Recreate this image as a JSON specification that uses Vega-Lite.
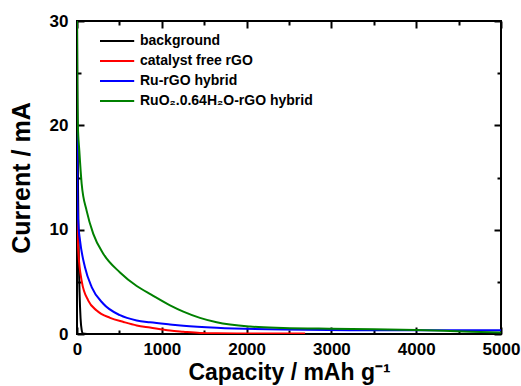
{
  "$schema": "https://vega.github.io/schema/vega-lite/v6.json",
  "width": 424,
  "height": 313,
  "autosize": "none",
  "padding": {"left": 77, "top": 21, "right": 20, "bottom": 52},
  "background": "white",
  "config": {
    "view": {"stroke": "black", "strokeWidth": 2},
    "font": "Liberation Sans"
  },
  "data": {
    "values": [
      {"s": "background", "x": 0, "y": 31},
      {"s": "background", "x": 5, "y": 22},
      {"s": "background", "x": 12, "y": 14},
      {"s": "background", "x": 20, "y": 8},
      {"s": "background", "x": 30, "y": 4},
      {"s": "background", "x": 42, "y": 1.5},
      {"s": "background", "x": 55, "y": 0.4},
      {"s": "background", "x": 70, "y": 0.05},
      {"s": "background", "x": 120, "y": 0},
      {"s": "catalyst free rGO", "x": 0, "y": 13},
      {"s": "catalyst free rGO", "x": 5, "y": 10.5},
      {"s": "catalyst free rGO", "x": 15, "y": 8},
      {"s": "catalyst free rGO", "x": 55, "y": 5.1},
      {"s": "catalyst free rGO", "x": 133, "y": 3.2},
      {"s": "catalyst free rGO", "x": 232, "y": 2.25},
      {"s": "catalyst free rGO", "x": 390, "y": 1.55},
      {"s": "catalyst free rGO", "x": 550, "y": 1.15},
      {"s": "catalyst free rGO", "x": 704, "y": 0.82},
      {"s": "catalyst free rGO", "x": 861, "y": 0.62},
      {"s": "catalyst free rGO", "x": 1097, "y": 0.33},
      {"s": "catalyst free rGO", "x": 1254, "y": 0.22},
      {"s": "catalyst free rGO", "x": 1450, "y": 0.1},
      {"s": "catalyst free rGO", "x": 1647, "y": 0.06},
      {"s": "catalyst free rGO", "x": 2000, "y": 0.05},
      {"s": "catalyst free rGO", "x": 2690, "y": 0.04},
      {"s": "Ru-rGO hybrid", "x": 0, "y": 21},
      {"s": "Ru-rGO hybrid", "x": 2, "y": 17},
      {"s": "Ru-rGO hybrid", "x": 5, "y": 13},
      {"s": "Ru-rGO hybrid", "x": 15, "y": 10.6},
      {"s": "Ru-rGO hybrid", "x": 35, "y": 9},
      {"s": "Ru-rGO hybrid", "x": 94, "y": 6.4},
      {"s": "Ru-rGO hybrid", "x": 173, "y": 4.5},
      {"s": "Ru-rGO hybrid", "x": 310, "y": 2.9},
      {"s": "Ru-rGO hybrid", "x": 507, "y": 1.8},
      {"s": "Ru-rGO hybrid", "x": 704, "y": 1.3},
      {"s": "Ru-rGO hybrid", "x": 861, "y": 1.12},
      {"s": "Ru-rGO hybrid", "x": 1097, "y": 0.92},
      {"s": "Ru-rGO hybrid", "x": 1254, "y": 0.8},
      {"s": "Ru-rGO hybrid", "x": 1647, "y": 0.6},
      {"s": "Ru-rGO hybrid", "x": 2433, "y": 0.42},
      {"s": "Ru-rGO hybrid", "x": 3219, "y": 0.37},
      {"s": "Ru-rGO hybrid", "x": 4000, "y": 0.36},
      {"s": "Ru-rGO hybrid", "x": 5000, "y": 0.36},
      {"s": "RuO₂.0.64H₂O-rGO hybrid", "x": 0, "y": 31},
      {"s": "RuO₂.0.64H₂O-rGO hybrid", "x": 3, "y": 24},
      {"s": "RuO₂.0.64H₂O-rGO hybrid", "x": 10, "y": 20},
      {"s": "RuO₂.0.64H₂O-rGO hybrid", "x": 27, "y": 17.6},
      {"s": "RuO₂.0.64H₂O-rGO hybrid", "x": 55, "y": 14.4},
      {"s": "RuO₂.0.64H₂O-rGO hybrid", "x": 114, "y": 11.8},
      {"s": "RuO₂.0.64H₂O-rGO hybrid", "x": 192, "y": 9.6},
      {"s": "RuO₂.0.64H₂O-rGO hybrid", "x": 310, "y": 7.7},
      {"s": "RuO₂.0.64H₂O-rGO hybrid", "x": 507, "y": 5.9},
      {"s": "RuO₂.0.64H₂O-rGO hybrid", "x": 704, "y": 4.6},
      {"s": "RuO₂.0.64H₂O-rGO hybrid", "x": 880, "y": 3.75},
      {"s": "RuO₂.0.64H₂O-rGO hybrid", "x": 1097, "y": 2.75},
      {"s": "RuO₂.0.64H₂O-rGO hybrid", "x": 1254, "y": 2.15},
      {"s": "RuO₂.0.64H₂O-rGO hybrid", "x": 1450, "y": 1.55},
      {"s": "RuO₂.0.64H₂O-rGO hybrid", "x": 1647, "y": 1.13},
      {"s": "RuO₂.0.64H₂O-rGO hybrid", "x": 2040, "y": 0.72},
      {"s": "RuO₂.0.64H₂O-rGO hybrid", "x": 2433, "y": 0.58},
      {"s": "RuO₂.0.64H₂O-rGO hybrid", "x": 3000, "y": 0.5},
      {"s": "RuO₂.0.64H₂O-rGO hybrid", "x": 3500, "y": 0.45},
      {"s": "RuO₂.0.64H₂O-rGO hybrid", "x": 4000, "y": 0.38},
      {"s": "RuO₂.0.64H₂O-rGO hybrid", "x": 4556, "y": 0.24},
      {"s": "RuO₂.0.64H₂O-rGO hybrid", "x": 5000, "y": 0.14}
    ]
  },
  "layer": [
    {
      "mark": {"type": "line", "strokeWidth": 2, "clip": true, "interpolate": "monotone"},
      "encoding": {
        "x": {
          "field": "x", "type": "quantitative",
          "scale": {"domain": [0, 5000], "nice": false},
          "axis": {
            "orient": "bottom", "values": [0, 1000, 2000, 3000, 4000, 5000], "format": "d",
            "ticks": false, "domain": false, "grid": false, "labelFlush": false,
            "labelFont": "Liberation Sans", "labelFontWeight": "bold", "labelFontSize": 17,
            "labelColor": "black", "labelPadding": 7,
            "title": "Capacity / mAh g⁻¹", "titleFont": "Liberation Sans", "titleFontSize": 23,
            "titleFontWeight": "bold", "titleColor": "black", "titlePadding": 4
          }
        },
        "y": {
          "field": "y", "type": "quantitative",
          "scale": {"domain": [0, 30], "nice": false},
          "axis": {
            "orient": "left", "values": [0, 10, 20, 30], "format": "d",
            "ticks": false, "domain": false, "grid": false, "labelFlush": false,
            "labelFont": "Liberation Sans", "labelFontWeight": "bold", "labelFontSize": 17,
            "labelColor": "black", "labelPadding": 9,
            "title": "Current / mA", "titleFont": "Liberation Sans", "titleFontSize": 25,
            "titleFontWeight": "bold", "titleColor": "black", "titlePadding": 15
          }
        },
        "color": {
          "field": "s", "type": "nominal",
          "scale": {
            "domain": ["background", "catalyst free rGO", "Ru-rGO hybrid", "RuO₂.0.64H₂O-rGO hybrid"],
            "range": ["#000000", "#ff0000", "#0000ff", "#008000"]
          },
          "legend": {
            "orient": "top-left", "title": null, "offset": 13, "padding": 0,
            "symbolType": "M0.5,0H6.2", "symbolSize": 144, "symbolStrokeWidth": 2,
            "labelFont": "Liberation Sans", "labelFontWeight": "bold", "labelFontSize": 14,
            "labelColor": "black", "labelOffset": 36, "rowPadding": 6, "labelLimit": 400
          }
        }
      }
    },
    {
      "mark": {"type": "point", "opacity": 0},
      "encoding": {
        "x": {
          "field": "x", "type": "quantitative",
          "axis": {
            "orient": "bottom", "values": [0, 500, 1000, 1500, 2000, 2500, 3000, 3500, 4000, 4500, 5000],
            "labels": false, "domain": false, "grid": false, "title": null,
            "tickColor": "black", "tickWidth": 2,
            "tickSize": {"condition": {"test": "datum.value % 1000 !== 0", "value": -4}, "value": -7}
          }
        },
        "y": {
          "field": "y", "type": "quantitative",
          "axis": {
            "orient": "left", "values": [0, 5, 10, 15, 20, 25, 30],
            "labels": false, "domain": false, "grid": false, "title": null,
            "tickColor": "black", "tickWidth": 2,
            "tickSize": {"condition": {"test": "datum.value % 10 !== 0", "value": -4}, "value": -7}
          }
        }
      }
    },
    {
      "mark": {"type": "point", "opacity": 0},
      "encoding": {
        "x": {
          "field": "x", "type": "quantitative",
          "axis": {
            "orient": "top", "values": [0, 500, 1000, 1500, 2000, 2500, 3000, 3500, 4000, 4500, 5000],
            "labels": false, "domain": false, "grid": false, "title": null,
            "tickColor": "black", "tickWidth": 2,
            "tickSize": {"condition": {"test": "datum.value % 1000 !== 0", "value": -4}, "value": -7}
          }
        },
        "y": {
          "field": "y", "type": "quantitative",
          "axis": {
            "orient": "right", "values": [0, 5, 10, 15, 20, 25, 30],
            "labels": false, "domain": false, "grid": false, "title": null,
            "tickColor": "black", "tickWidth": 2,
            "tickSize": {"condition": {"test": "datum.value % 10 !== 0", "value": -4}, "value": -7}
          }
        }
      }
    }
  ],
  "resolve": {
    "scale": {"x": "shared", "y": "shared"},
    "axis": {"x": "independent", "y": "independent"}
  }
}
